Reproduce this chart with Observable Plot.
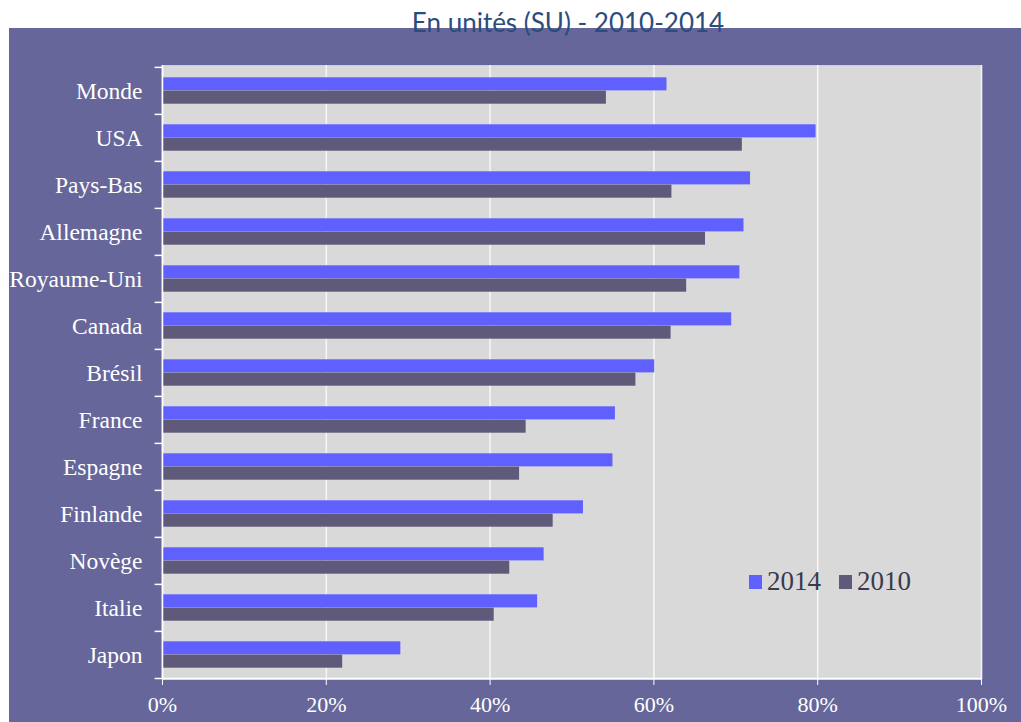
<!DOCTYPE html>
<html>
<head>
<meta charset="utf-8">
<script src="https://cdn.jsdelivr.net/npm/d3@7"></script>
<script src="https://cdn.jsdelivr.net/npm/@observablehq/plot@0.6"></script>
<style>
  html, body { margin: 0; padding: 0; background: #ffffff; }
  #wrap { position: relative; width: 1021px; height: 722px; overflow: hidden; background: #ffffff; }
  #chart { position: absolute; left: 9px; top: 28px; }
  #title { position: absolute; left: 568px; top: 6px; transform: translateX(-50%); white-space: nowrap;
    font-family: Lato, "Open Sans", sans-serif; font-size: 26px; color: #2b4c7e; z-index: 2; }
  #legend { position: absolute; left: 749px; top: 566px; display: flex; align-items: center;
    font-family: "Liberation Serif", serif; font-size: 27px; color: #3a3a4a; z-index: 2; }
  #legend .sw { display: inline-block; width: 13px; height: 14px; margin-right: 5px; }
  #legend .item { display: flex; align-items: center; margin-right: 18px; }
</style>
</head>
<body>
<div id="wrap">
  <div id="title">En unités (SU) - 2010-2014</div>
  <div id="chart"></div>
  <div id="legend"></div>
</div>
<script>
const categories = ["Monde","USA","Pays-Bas","Allemagne","Royaume-Uni","Canada","Brésil","France","Espagne","Finlande","Novège","Italie","Japon"];
const values2014 = [61.6, 79.8, 71.8, 71.0, 70.5, 69.5, 60.1, 55.3, 55.0, 51.4, 46.6, 45.8, 29.1];
const values2010 = [54.2, 70.8, 62.2, 66.3, 64.0, 62.1, 57.8, 44.4, 43.6, 47.7, 42.4, 40.5, 22.0];
const xTicks = [0, 20, 40, 60, 80, 100];
const seriesNames = ["2014", "2010"];
const seriesColors = ["#6060ff", "#5f5a7a"];

const data2014 = categories.map((c, i) => ({cat: c, value: values2014[i]}));
const data2010 = categories.map((c, i) => ({cat: c, value: values2010[i]}));

const W = 1012, H = 694, mt = 37, mb = 43, ml = 153, mr = 40;
const step = (H - mt - mb) / categories.length;
const gap = 10.3;

const chart = Plot.plot({
  width: W,
  height: H,
  marginTop: mt,
  marginBottom: mb,
  marginLeft: ml,
  marginRight: mr,
  style: {background: "#66669a", color: "#ffffff", fontFamily: "'Liberation Serif', serif", fontSize: "23px", overflow: "visible"},
  x: {domain: [0, 100]},
  y: {domain: categories, padding: 0},
  marks: [
    Plot.frame({fill: "#d9d9d9", stroke: "#c4cfe2"}),
    Plot.gridX(xTicks, {stroke: "#f5f5f5", strokeOpacity: 1, strokeWidth: 1.6}),
    Plot.barX(data2014, {x: "value", y: "cat", fill: seriesColors[0], insetTop: gap, insetBottom: step / 2}),
    Plot.barX(data2010, {x: "value", y: "cat", fill: seriesColors[1], insetTop: step / 2, insetBottom: gap}),
    Plot.ruleX([0], {stroke: "#ffffff", strokeWidth: 1.5}),
    Plot.ruleY(categories, {y: d => d, x1: -0.9, x2: 0, dy: -step / 2, stroke: "#ffffff", strokeWidth: 1.5}),
    Plot.ruleY([categories[categories.length - 1]], {y: d => d, x1: -0.9, x2: 100, dy: step / 2, stroke: "#ffffff", strokeWidth: 1.5}),
    Plot.axisY({tickSize: 0, tickPadding: 20, label: null, fontSize: 23.5}),
    Plot.axisX(xTicks, {tickFormat: d => d + "%", tickSize: 6, tickPadding: 11, label: null, fontSize: 22, stroke: "#ffffff"})
  ]
});
document.getElementById("chart").appendChild(chart);

const legend = document.getElementById("legend");
seriesNames.forEach((n, i) => {
  const item = document.createElement("span");
  item.className = "item";
  const sw = document.createElement("span");
  sw.className = "sw";
  sw.style.background = seriesColors[i];
  item.appendChild(sw);
  item.appendChild(document.createTextNode(n));
  legend.appendChild(item);
});
</script>
</body>
</html>
